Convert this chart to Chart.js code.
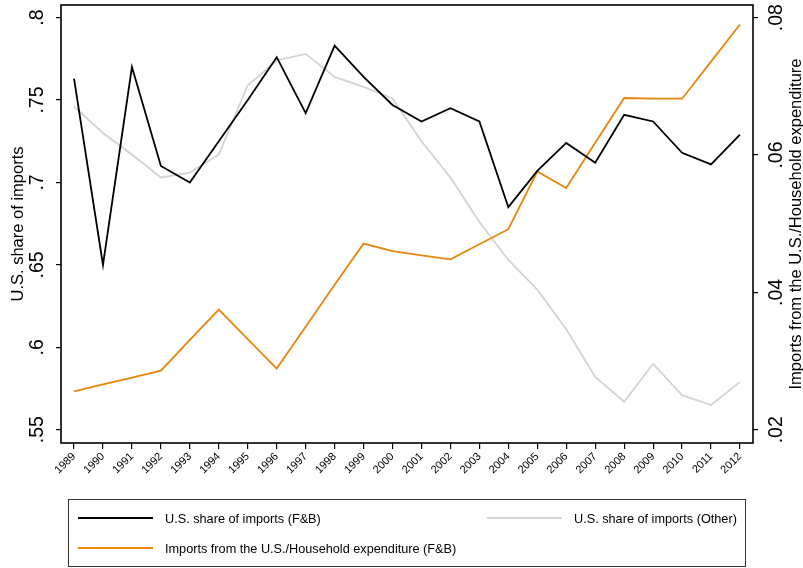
<!DOCTYPE html>
<html>
<head>
<meta charset="utf-8">
<script src="https://cdn.jsdelivr.net/npm/chart.js@4.4.1/dist/chart.umd.min.js"></script>
<style>
    html, body { margin: 0; padding: 0; background: #fff; }
</style>
</head>
<body>
<canvas id="grafico" width="803" height="568"></canvas>
<script>
const anos = [1989, 1990, 1991, 1992, 1993, 1994, 1995, 1996, 1997, 1998, 1999, 2000,
              2001, 2002, 2003, 2004, 2005, 2006, 2007, 2008, 2009, 2010, 2011, 2012];

// U.S. share of imports (F&B) - eixo esquerdo
const shareFB = [0.763, 0.650, 0.770, 0.710, 0.700, 0.725, 0.750, 0.776, 0.742, 0.783, 0.764, 0.747,
                 0.737, 0.745, 0.737, 0.685, 0.707, 0.724, 0.712, 0.741, 0.737, 0.718, 0.711, 0.729];

// U.S. share of imports (Other) - eixo esquerdo
const shareOther = [0.746, 0.730, 0.717, 0.703, 0.706, 0.717, 0.759, 0.774, 0.778, 0.764, 0.758, 0.751,
                    0.725, 0.703, 0.676, 0.653, 0.635, 0.611, 0.582, 0.567, 0.590, 0.571, 0.565, 0.579];

// Imports from the U.S./Household expenditure (F&B) - eixo direito
const importsHH = [0.0256, 0.0266, 0.0276, 0.0286, 0.0331, 0.0375, 0.0332, 0.0289, 0.0350, 0.0411, 0.0471, 0.0460,
                   0.0454, 0.0448, 0.0470, 0.0492, 0.0576, 0.0552, 0.0618, 0.0683, 0.0682, 0.0682, 0.0736, 0.0790];

const leftTicks = [0.55, 0.6, 0.65, 0.7, 0.75, 0.8];
const leftTickLabels = ['.55', '.6', '.65', '.7', '.75', '.8'];
const rightTicks = [0.02, 0.04, 0.06, 0.08];
const rightTickLabels = ['.02', '.04', '.06', '.08'];

const FONT = '"Liberation Sans", Arial, Helvetica, sans-serif';

const pontos = (vals) => anos.map((a, i) => ({ x: a, y: vals[i] }));

const legenda = [
    { label: 'U.S. share of imports (F&B)', color: '#000000', x: 78, y: 518 },
    { label: 'U.S. share of imports (Other)', color: '#d3d3d3', x: 487, y: 518 },
    { label: 'Imports from the U.S./Household expenditure (F&B)', color: '#e8850c', x: 78, y: 548 }
];

const extras = {
    id: 'extras',
    afterDraw(chart) {
        const ctx = chart.ctx;
        const a = chart.chartArea;
        ctx.save();

        // moldura do gráfico
        ctx.strokeStyle = '#000';
        ctx.lineWidth = 1.6;
        ctx.strokeRect(a.left, a.top, a.right - a.left, a.bottom - a.top);

        ctx.fillStyle = '#000';
        ctx.textAlign = 'center';
        ctx.textBaseline = 'alphabetic';

        // rótulos dos eixos y (girados)
        ctx.font = '19.5px ' + FONT;
        leftTicks.forEach((v, i) => {
            const y = chart.scales.yL.getPixelForValue(v);
            ctx.save();
            ctx.translate(43, y);
            ctx.rotate(-Math.PI / 2);
            ctx.fillText(leftTickLabels[i], 0, 0);
            ctx.restore();
        });
        rightTicks.forEach((v, i) => {
            const y = chart.scales.yR.getPixelForValue(v);
            ctx.save();
            ctx.translate(782, y);
            ctx.rotate(-Math.PI / 2);
            ctx.fillText(rightTickLabels[i], 0, 0);
            ctx.restore();
        });

        // títulos dos eixos
        const meio = (a.top + a.bottom) / 2;
        ctx.font = '16.5px ' + FONT;
        ctx.save();
        ctx.translate(23, meio);
        ctx.rotate(-Math.PI / 2);
        ctx.fillText('U.S. share of imports', 0, 0);
        ctx.restore();
        ctx.save();
        ctx.translate(801, meio);
        ctx.rotate(-Math.PI / 2);
        ctx.fillText('Imports from the U.S./Household expenditure', 0, 0);
        ctx.restore();

        // caixa da legenda
        ctx.strokeStyle = '#333';
        ctx.lineWidth = 1;
        ctx.strokeRect(68.5, 499.5, 677, 67);
        ctx.textAlign = 'left';
        ctx.textBaseline = 'middle';
        ctx.font = '12.7px ' + FONT;
        legenda.forEach(item => {
            ctx.strokeStyle = item.color;
            ctx.lineWidth = 2;
            ctx.beginPath();
            ctx.moveTo(item.x, item.y);
            ctx.lineTo(item.x + 75, item.y);
            ctx.stroke();
            ctx.fillText(item.label, item.x + 87, item.y + 1);
        });
        ctx.restore();
    }
};

new Chart(document.getElementById('grafico'), {
    type: 'line',
    data: {
        datasets: [
            {
                label: 'U.S. share of imports (F&B)',
                data: pontos(shareFB),
                borderColor: '#000000',
                borderWidth: 1.8,
                yAxisID: 'yL'
            },
            {
                label: 'Imports from the U.S./Household expenditure (F&B)',
                data: pontos(importsHH),
                borderColor: '#e8850c',
                borderWidth: 1.8,
                yAxisID: 'yR'
            },
            {
                label: 'U.S. share of imports (Other)',
                data: pontos(shareOther),
                borderColor: '#d3d3d3',
                borderWidth: 1.8,
                yAxisID: 'yL'
            }
        ]
    },
    options: {
        responsive: false,
        animation: false,
        elements: { point: { radius: 0 }, line: { tension: 0 } },
        layout: { padding: { top: 5, bottom: 80, left: 0, right: 0 } },
        plugins: {
            legend: { display: false },
            tooltip: { enabled: false }
        },
        scales: {
            x: {
                type: 'linear',
                min: anos[0] - 0.45,
                max: anos[anos.length - 1] + 0.45,
                afterBuildTicks: (s) => { s.ticks = anos.map(v => ({ value: v })); },
                afterFit: (s) => { s.height = 45; },
                border: { display: false },
                grid: { drawOnChartArea: false, drawTicks: true, tickLength: 6, color: '#000', lineWidth: 1.2 },
                ticks: {
                    autoSkip: false,
                    minRotation: 45,
                    maxRotation: 45,
                    padding: 1,
                    color: '#000',
                    font: { family: FONT, size: 11 },
                    callback: (v) => String(v)
                }
            },
            yL: {
                position: 'left',
                min: 0.54194,
                max: 0.80765,
                afterBuildTicks: (s) => { s.ticks = leftTicks.map(v => ({ value: v })); },
                afterFit: (s) => { s.width = 61; },
                border: { display: false },
                grid: { drawOnChartArea: false, drawTicks: true, tickLength: 5, color: '#000', lineWidth: 1.2 },
                ticks: { display: false }
            },
            yR: {
                position: 'right',
                min: 0.01807,
                max: 0.08184,
                afterBuildTicks: (s) => { s.ticks = rightTicks.map(v => ({ value: v })); },
                afterFit: (s) => { s.width = 50; },
                border: { display: false },
                grid: { drawOnChartArea: false, drawTicks: true, tickLength: 5, color: '#000', lineWidth: 1.2 },
                ticks: { display: false }
            }
        }
    },
    plugins: [extras]
});
</script>
</body>
</html>
